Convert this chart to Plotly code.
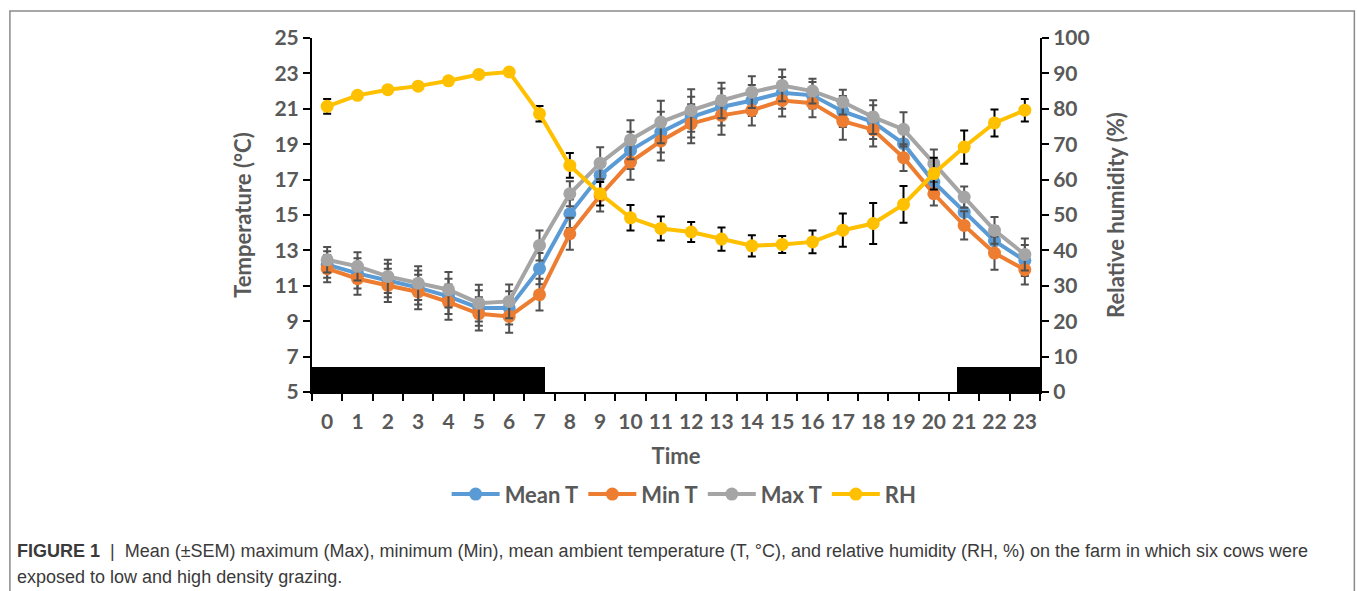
import plotly.graph_objects as go

hours = list(range(24))
mean_t = [12.2, 11.7, 11.3, 10.9, 10.4, 9.75, 9.75, 11.97, 15.07, 17.24, 18.65, 19.68, 20.53, 21.1,
          21.47, 21.9, 21.76, 20.85, 20.25, 19.03, 16.86, 15.16, 13.53, 12.43]
min_t = [11.97, 11.4, 11.02, 10.65, 10.08, 9.42, 9.27, 10.5, 13.94, 16.1, 17.99, 19.18, 20.16, 20.63,
         20.91, 21.47, 21.32, 20.3, 19.82, 18.24, 16.2, 14.41, 12.85, 11.91]
max_t = [12.47, 12.1, 11.53, 11.15, 10.78, 10.02, 10.12, 13.28, 16.2, 17.93, 19.25, 20.25, 20.91, 21.47,
         21.94, 22.32, 22.0, 21.38, 20.53, 19.84, 17.9, 16.01, 14.13, 12.77]
rh = [80.7, 83.8, 85.4, 86.4, 87.9, 89.7, 90.4, 78.6, 64.0, 56.0, 49.2, 46.2, 45.2, 43.2,
      41.3, 41.7, 42.4, 45.7, 47.6, 53.0, 61.7, 69.2, 76.0, 79.6]

mean_sem = [0.75, 0.85, 0.94, 0.96, 1.0, 1.0, 0.94, 0.88, 0.8, 0.9, 1.05, 1.15, 1.15, 1.05,
            0.88, 0.9, 0.75, 0.88, 0.95, 0.87, 0.73, 0.7, 0.85, 0.87]
min_sem = [0.77, 0.9, 0.94, 0.98, 1.0, 0.94, 0.92, 0.9, 0.9, 0.9, 1.0, 1.1, 1.1, 1.1,
           0.85, 0.9, 0.8, 1.05, 0.95, 0.76, 0.66, 0.8, 0.94, 0.83]
max_sem = [0.72, 0.8, 0.94, 0.95, 1.0, 1.04, 0.96, 0.85, 0.7, 0.9, 1.1, 1.2, 1.2, 1.0,
           0.9, 0.9, 0.7, 0.7, 0.95, 0.97, 0.8, 0.6, 0.75, 0.9]
rh_sem = [2.1, 0.9, 0.8, 0.8, 0.9, 0.8, 0.8, 2.2, 3.5, 3.3, 3.6, 3.4, 2.8, 3.3,
          3.0, 2.4, 3.2, 4.7, 5.8, 5.2, 4.5, 4.7, 3.8, 3.2]

# dark (night) periods drawn as black bars along the bottom of the temperature axis
night_start = [-0.5, 20.76]
night_end = [7.18, 23.5]
night_base = 5
night_top = 6.4

caption_line1 = ("<b>FIGURE 1</b>  |  Mean (±SEM) maximum (Max), minimum (Min), mean ambient temperature "
                 "(T, °C), and relative humidity (RH, %) on the farm in which six cows were")
caption_line2 = "exposed to low and high density grazing."

W, H = 1357, 591
L, R = 311.7, 1040.0
T, B = 37.6, 391.7
PW, PH = R - L, B - T


def px(x):
    return (x - L) / PW


def py(y):
    return (B - y) / PH


FONT = "Lato"
TXT = "#595959"

fig = go.Figure()

fig.add_trace(go.Bar(
    x=[(s + e) / 2 for s, e in zip(night_start, night_end)],
    y=[night_top - night_base] * len(night_start),
    base=[night_base] * len(night_start),
    width=[e - s for s, e in zip(night_start, night_end)],
    marker=dict(color="black", line=dict(width=0)),
    showlegend=False, hoverinfo="skip",
))

series = [
    ("Mean T", mean_t, mean_sem, "#5B9BD5"),
    ("Min T", min_t, min_sem, "#ED7D31"),
    ("Max T", max_t, max_sem, "#A5A5A5"),
]
for name, vals, sem, col in series:
    fig.add_trace(go.Scatter(
        x=hours, y=vals, name=name, mode="lines+markers",
        line=dict(color=col, width=4),
        marker=dict(color=col, size=13),
        error_y=dict(type="data", array=sem, visible=True, color="#505050", thickness=2, width=4),
    ))

fig.add_trace(go.Scatter(
    x=hours, y=rh, name="RH", mode="lines+markers", yaxis="y2",
    line=dict(color="#FFC000", width=4),
    marker=dict(color="#FFC000", size=13),
    error_y=dict(type="data", array=rh_sem, visible=True, color="black", thickness=2, width=4),
))

fig.update_layout(
    width=W, height=H,
    margin=dict(l=L, r=W - R, t=T, b=H - B, autoexpand=False),
    paper_bgcolor="white", plot_bgcolor="white",
    font=dict(family=FONT, color=TXT),
    showlegend=True,
    legend=dict(orientation="h", x=px(684), xanchor="center", y=py(494), yanchor="middle",
                font=dict(family=FONT, size=22, color=TXT, weight="bold"), itemwidth=48,
                traceorder="normal", bgcolor="rgba(0,0,0,0)"),
    bargap=0,
    xaxis=dict(
        range=[-0.5, 23.5], tickmode="array", tickvals=hours, ticktext=[str(h) for h in hours],
        ticks="", showline=True, linecolor="black", linewidth=2, showgrid=False, zeroline=False,
        tickfont=dict(family=FONT, size=21, color=TXT, weight="bold"), ticklabelstandoff=10,
        minor=dict(tickvals=[h - 0.5 for h in range(25)], ticks="outside", ticklen=7,
                   tickwidth=2, tickcolor="black", showgrid=False),
        title=dict(text="<b>Time</b>", font=dict(family=FONT, size=22, color=TXT), standoff=16),
    ),
    yaxis=dict(
        range=[5, 25], tickmode="linear", tick0=5, dtick=2, ticks="outside", ticklen=7,
        tickwidth=2, tickcolor="black", showline=True, linecolor="black", linewidth=2,
        showgrid=False, zeroline=False,
        tickfont=dict(family=FONT, size=21, color=TXT, weight="bold"),
        title=dict(text="<b>Temperature (°C)</b>", font=dict(family=FONT, size=22, color=TXT), standoff=17),
    ),
    yaxis2=dict(
        range=[0, 100], tickmode="linear", tick0=0, dtick=10, overlaying="y", side="right",
        ticks="outside", ticklen=7, tickwidth=2, tickcolor="black", showline=True,
        linecolor="black", linewidth=2, showgrid=False, zeroline=False,
        tickfont=dict(family=FONT, size=21, color=TXT, weight="bold"),
        title=dict(text="<b>Relative humidity (%)</b>", font=dict(family=FONT, size=22, color=TXT), standoff=20),
    ),
)

fig.add_shape(type="rect", xref="paper", yref="paper",
              x0=px(9.5), x1=px(1354.5), y0=py(620), y1=py(10.5),
              line=dict(color="#8a8a8a", width=1.5), fillcolor="rgba(0,0,0,0)", layer="below")

fig.add_annotation(text=caption_line1, xref="paper", yref="paper", x=px(15), y=py(551),
                   xanchor="left", yanchor="middle", showarrow=False,
                   font=dict(family="Liberation Sans", size=18, color="#3a3a3a"))
fig.add_annotation(text=caption_line2, xref="paper", yref="paper", x=px(15), y=py(577),
                   xanchor="left", yanchor="middle", showarrow=False,
                   font=dict(family="Liberation Sans", size=18, color="#3a3a3a"))

fig.write_html("out.html")
